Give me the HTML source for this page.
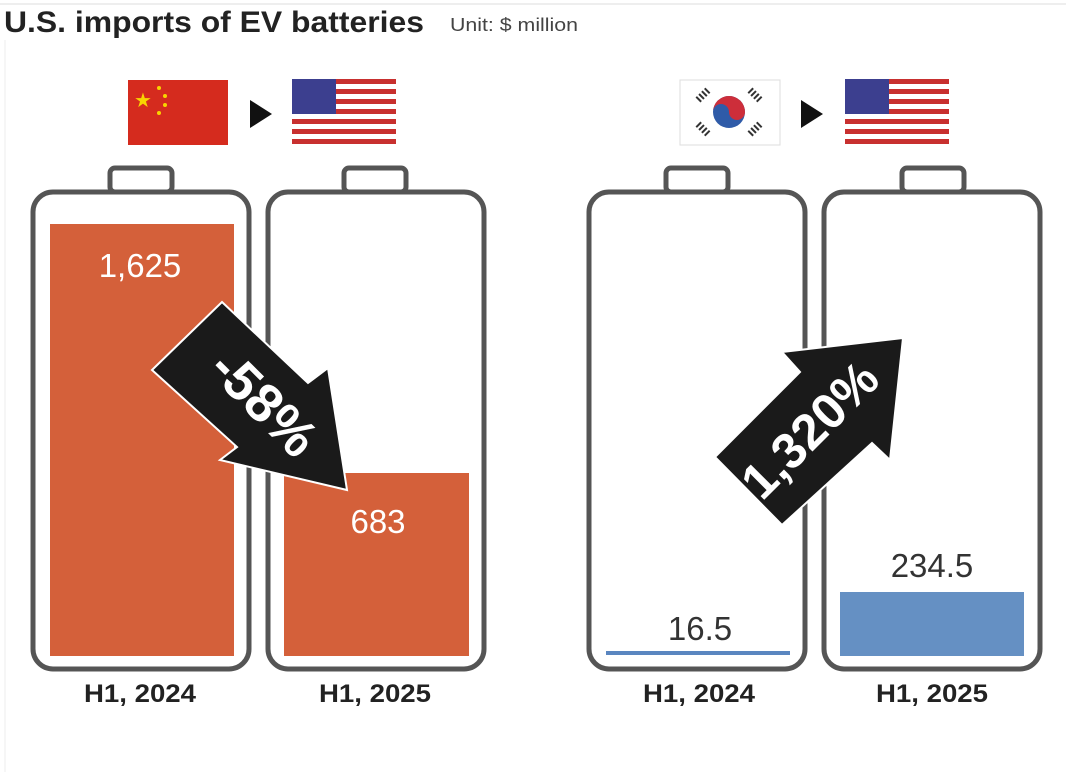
<!DOCTYPE html>
<html><head><style>
html,body{margin:0;padding:0;background:#fff;}
body{width:1066px;height:772px;overflow:hidden;font-family:"Liberation Sans",sans-serif;}
</style></head><body>
<svg width="1066" height="772" viewBox="0 0 1066 772" xmlns="http://www.w3.org/2000/svg" font-family="Liberation Sans, sans-serif">
<rect width="1066" height="772" fill="#fff"/>
<line x1="0" y1="4" x2="1066" y2="4" stroke="#eee" stroke-width="2"/>
<line x1="5" y1="40" x2="5" y2="772" stroke="#eee" stroke-width="1"/>
<text x="4" y="32" font-size="30" font-weight="bold" fill="#222" textLength="420" lengthAdjust="spacingAndGlyphs">U.S. imports of EV batteries</text>
<text x="450" y="31" font-size="18" fill="#444" textLength="128" lengthAdjust="spacingAndGlyphs">Unit: $ million</text>

<rect x="128" y="80" width="100" height="65" fill="#d52b1e"/>
<text x="134" y="107" font-size="20" fill="#f8d400">★</text>
<g fill="#f8d400"><circle cx="159" cy="88" r="2"/><circle cx="165" cy="96" r="2"/><circle cx="165" cy="105" r="2"/><circle cx="159" cy="113" r="2"/></g>
<polygon points="250,100 272,114 250,128" fill="#111"/>
<g id="us">
<rect x="292" y="79" width="104" height="66" fill="#fff"/>
<g fill="#c8302f">
<rect x="292" y="79" width="104" height="5"/><rect x="292" y="89" width="104" height="5"/><rect x="292" y="99" width="104" height="5"/><rect x="292" y="109" width="104" height="5"/><rect x="292" y="119" width="104" height="5"/><rect x="292" y="129" width="104" height="5"/><rect x="292" y="139" width="104" height="5"/>
</g>
<rect x="292" y="79" width="44" height="35" fill="#3c3f8f"/>
</g>
<use href="#us" x="553" y="0"/>
<rect x="680" y="80" width="100" height="65" fill="#fff" stroke="#ddd"/>
<circle cx="729" cy="112" r="16" fill="#2f5ba8"/>
<path d="M713,112 A16,16 0 0 1 745,112 A8,8 0 0 1 729,112 A8,8 0 0 0 713,112Z" fill="#cd2e3a"/>
<g stroke="#333" stroke-width="7" stroke-dasharray="2,2">
<line x1="698" y1="100" x2="708" y2="90"/><line x1="750" y1="90" x2="760" y2="100"/>
<line x1="698" y1="124" x2="708" y2="134"/><line x1="750" y1="134" x2="760" y2="124"/>
</g>
<polygon points="801,100 823,114 801,128" fill="#111"/>

<g fill="none" stroke="#555" stroke-width="5">
<rect x="110" y="168" width="62" height="24" rx="5"/>
<rect x="344" y="168" width="62" height="24" rx="5"/>
<rect x="666" y="168" width="62" height="24" rx="5"/>
<rect x="902" y="168" width="62" height="24" rx="5"/>
</g>
<g fill="#fff" stroke="#555" stroke-width="5">
<rect x="33" y="192" width="216" height="477" rx="20"/>
<rect x="268" y="192" width="216" height="477" rx="20"/>
<rect x="589" y="192" width="216" height="477" rx="20"/>
<rect x="824" y="192" width="216" height="477" rx="20"/>
</g>
<rect x="50" y="224" width="184" height="432" fill="#d4603a"/>
<rect x="284" y="473" width="185" height="183" fill="#d4603a"/>
<rect x="606" y="651" width="184" height="4" fill="#5a86c0"/>
<rect x="840" y="592" width="184" height="64" fill="#6590c3"/>

<g font-size="33" text-anchor="middle">
<text x="140" y="277" fill="#fff">1,625</text>
<text x="378" y="533" fill="#fff">683</text>
<text x="700" y="640" fill="#333">16.5</text>
<text x="932" y="577" fill="#333">234.5</text>
</g>

<g font-size="25" font-weight="bold" fill="#222" text-anchor="middle">
<text x="140" y="702" textLength="112" lengthAdjust="spacingAndGlyphs">H1, 2024</text>
<text x="375" y="702" textLength="112" lengthAdjust="spacingAndGlyphs">H1, 2025</text>
<text x="699" y="702" textLength="112" lengthAdjust="spacingAndGlyphs">H1, 2024</text>
<text x="932" y="702" textLength="112" lengthAdjust="spacingAndGlyphs">H1, 2025</text>
</g>

<polygon points="222,302 308,383 328,368 347,490 220,460 237,447 152,370" fill="#1a1a1a" stroke="#fff" stroke-width="2"/>
<text x="0" y="0" transform="translate(251,416) rotate(45)" font-size="54" font-weight="bold" fill="#fff" text-anchor="middle">-58%</text>
<polygon points="903,338 890,460 872,443 782,525 715,457 800,372 782,352" fill="#1a1a1a" stroke="#fff" stroke-width="2"/>
<text x="0" y="0" transform="translate(822,442) rotate(-45)" font-size="50" font-weight="bold" fill="#fff" text-anchor="middle">1,320%</text>
</svg>
</body></html>
